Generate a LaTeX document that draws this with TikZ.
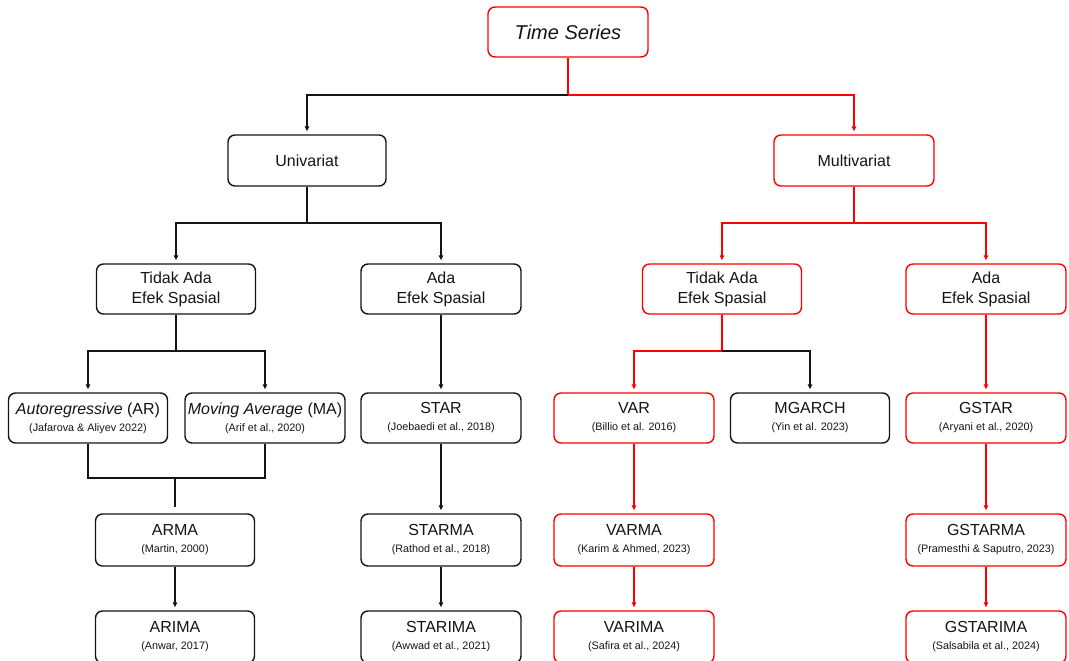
\documentclass[tikz,border=0pt]{standalone}
\usepackage{fontspec}
\setmainfont{Liberation Sans}
\usetikzlibrary{arrows.meta}
\definecolor{mred}{RGB}{255,0,0}
\definecolor{mblack}{RGB}{20,20,20}
\newcommand\ctx[1]{{\fontsize{10.8}{12}\selectfont #1}}
\begin{document}
\begin{tikzpicture}[x=1pt,y=-1pt,
  box/.style={draw=mblack, line width=1.4pt, rounded corners=7pt, minimum width=160pt,
    minimum height=50pt, inner sep=0pt, align=center, text=mblack,
    font=\fontsize{16}{17}\selectfont},
  rbox/.style={box, draw=mred},
  twoline/.style={font=\fontsize{16}{20}\selectfont},
  ln/.style={line width=1.4pt, draw=mblack},
  rln/.style={line width=1.4pt, draw=mred},
  arr/.style={ln, -{Triangle[length=5pt,width=4.5pt]}, shorten >=3pt},
  rarr/.style={rln, -{Triangle[length=5pt,width=4.5pt]}, shorten >=3pt}]
\useasboundingbox (0,0) rectangle (1069,661);
\clip (0,0) rectangle (1069,661);

% level 0
\node[rbox, font=\fontsize{20}{22}\selectfont] (ts) at (568,32) {\textit{Time Series}};
% level 1
\node[box, minimum width=158pt, minimum height=51pt] (uni) at (307,160.5) {Univariat};
\node[rbox, minimum height=51pt] (multi) at (854,160.5) {Multivariat};
% level 2
\node[box, twoline, minimum width=159pt] (tal) at (176,289) {Tidak Ada\\Efek Spasial};
\node[box, twoline] (al) at (441,289) {Ada\\Efek Spasial};
\node[rbox, twoline, minimum width=159pt] (tar) at (722,289) {Tidak Ada\\Efek Spasial};
\node[rbox, twoline] (adr) at (986,289) {Ada\\Efek Spasial};
% level 3
\node[box, minimum width=159pt] (ar) at (88,418) {\textit{Autoregressive} (AR)\\\ctx{(Jafarova \& Aliyev 2022)}};
\node[box] (ma) at (265,418) {\textit{Moving Average} (MA)\\\ctx{(Arif et al., 2020)}};
\node[box] (star) at (441,418) {STAR\\\ctx{(Joebaedi et al., 2018)}};
\node[rbox] (var) at (634,418) {VAR\\\ctx{(Billio et al. 2016)}};
\node[box, minimum width=159pt] (mgarch) at (810,418) {MGARCH\\\ctx{(Yin et al. 2023)}};
\node[rbox] (gstar) at (986,418) {GSTAR\\\ctx{(Aryani et al., 2020)}};
% level 4
\node[box, minimum width=159pt, minimum height=52pt] (arma) at (175,540) {ARMA\\\ctx{(Martin, 2000)}};
\node[box, minimum height=52pt] (starma) at (441,540) {STARMA\\\ctx{(Rathod et al., 2018)}};
\node[rbox, minimum height=52pt] (varma) at (634,540) {VARMA\\\ctx{(Karim \& Ahmed, 2023)}};
\node[rbox, minimum height=52pt] (gstarma) at (986,540) {GSTARMA\\\ctx{(Pramesthi \& Saputro, 2023)}};
% level 5 (cut by the page bottom)
\node[box, minimum width=159pt, minimum height=52pt] (arima) at (175,637) {ARIMA\\\ctx{(Anwar, 2017)}};
\node[box, minimum height=52pt] (starima) at (441,637) {STARIMA\\\ctx{(Awwad et al., 2021)}};
\node[rbox, minimum height=52pt] (varima) at (634,637) {VARIMA\\\ctx{(Safira et al., 2024)}};
\node[rbox, minimum height=52pt] (gstarima) at (986,637) {GSTARIMA\\\ctx{(Salsabila et al., 2024)}};

% junction points
\coordinate (j0) at (568,95);
\coordinate (j1) at (307,223);
\coordinate (j2) at (854,223);
\coordinate (j3) at (176,351);
\coordinate (j4) at (722,351);
\coordinate (j5) at (175,478);

% connectors
\draw[rln] (ts.south) -- (j0);
\draw[arr] (j0) -| (uni);
\draw[rarr] (j0) -| (multi);

\draw[ln] (uni.south) -- (j1);
\draw[arr] (j1) -| (tal);
\draw[arr] (j1) -| (al);

\draw[rln] (multi.south) -- (j2);
\draw[rarr] (j2) -| (tar);
\draw[rarr] (j2) -| (adr);

\draw[ln] (tal.south) -- (j3);
\draw[arr] (j3) -| (ar);
\draw[arr] (j3) -| (ma);

\draw[arr] (al) -- (star);

\draw[rln] (tar.south) -- (j4);
\draw[rarr] (j4) -| (var);
\draw[arr] (j4) -| (mgarch);

\draw[rarr] (adr) -- (gstar);

\draw[ln] (ar) |- (j5) -| (ma);
\draw[ln, shorten >=6pt] (j5) -- (arma);
\draw[arr] (arma) -- (arima);

\draw[arr] (star) -- (starma);
\draw[arr] (starma) -- (starima);

\draw[rarr] (var) -- (varma);
\draw[rarr] (varma) -- (varima);

\draw[rarr] (gstar) -- (gstarma);
\draw[rarr] (gstarma) -- (gstarima);
\end{tikzpicture}
\end{document}
